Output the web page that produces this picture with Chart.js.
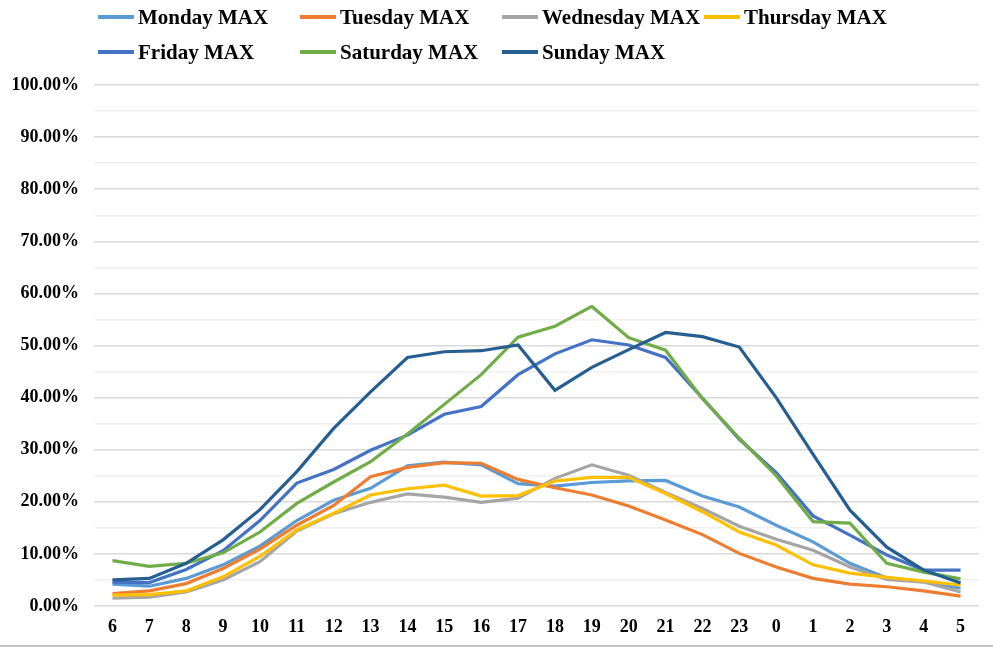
<!DOCTYPE html>
<html lang="en">

<head>
  <meta charset="UTF-8">
  <title>Daily MAX by hour</title>
  <script src="https://cdn.jsdelivr.net/npm/chart.js"></script>
  <style>
    body {
      margin: 0;
      padding: 0;
      background: #fff;
    }

    .wrap {
      position: relative;
      width: 993px;
      height: 649px;
      overflow: hidden;
    }

    .legend-item {
      position: absolute;
      display: flex;
      align-items: center;
      font: bold 21px "Liberation Serif", "Times New Roman", serif;
      color: #000;
      white-space: nowrap;
    }

    .legend-item span.swatch {
      display: inline-block;
      width: 36px;
      height: 4px;
      margin-right: 4px;
    }

    .bottom-rule {
      position: absolute;
      left: 0;
      top: 645px;
      width: 993px;
      height: 2px;
      background: #c4c4c4;
    }
  </style>
</head>

<body>
  <div class="wrap" id="wrap">
    <canvas id="chart" width="993" height="649"></canvas>
    <div class="bottom-rule"></div>
  </div>

  <script>
    const hours = ['6', '7', '8', '9', '10', '11', '12', '13', '14', '15', '16', '17',
      '18', '19', '20', '21', '22', '23', '0', '1', '2', '3', '4', '5'];

    // values in percent
    const monday = [4.2, 3.8, 5.3, 7.9, 11.5, 16.4, 20.3, 22.6, 26.9, 27.6, 27.1, 23.5,
      23.0, 23.7, 24.0, 24.1, 21.1, 19.0, 15.5, 12.3, 8.2, 5.4, 4.7, 3.4];
    const tuesday = [2.4, 2.9, 4.3, 7.2, 10.9, 15.5, 19.3, 24.8, 26.6, 27.5, 27.4, 24.3,
      22.7, 21.3, 19.2, 16.5, 13.7, 10.1, 7.5, 5.3, 4.2, 3.7, 2.9, 1.9];
    const wednesday = [1.5, 1.7, 2.7, 5.0, 8.5, 14.4, 17.7, 19.9, 21.5, 20.9, 19.9, 20.7,
      24.5, 27.1, 25.1, 21.8, 18.7, 15.3, 12.8, 10.7, 7.5, 5.1, 4.6, 2.7];
    const thursday = [2.1, 2.2, 2.9, 5.6, 9.5, 14.6, 17.8, 21.3, 22.5, 23.2, 21.1, 21.2,
      24.0, 24.7, 24.7, 21.6, 18.1, 14.2, 11.7, 7.9, 6.3, 5.5, 4.8, 4.0];
    const friday = [4.6, 4.5, 7.0, 10.6, 16.4, 23.6, 26.2, 29.9, 32.8, 36.8, 38.3, 44.4,
      48.4, 51.1, 50.1, 47.7, 39.9, 32.0, 25.6, 17.3, 13.6, 9.8, 6.9, 6.9];
    const saturday = [8.7, 7.6, 8.2, 10.2, 14.2, 19.7, 23.8, 27.7, 33.0, 38.7, 44.4, 51.6,
      53.7, 57.5, 51.5, 49.1, 39.8, 32.2, 25.0, 16.2, 15.9, 8.2, 6.5, 5.2];
    const sunday = [5.0, 5.3, 8.2, 12.7, 18.5, 25.8, 34.1, 41.1, 47.7, 48.8, 49.0, 50.1,
      41.4, 45.8, 49.2, 52.5, 51.7, 49.7, 40.0, 29.1, 18.4, 11.3, 6.9, 4.4];

    const seriesNames = ['Monday MAX', 'Tuesday MAX', 'Wednesday MAX', 'Thursday MAX',
      'Friday MAX', 'Saturday MAX', 'Sunday MAX'];
    const seriesValues = [monday, tuesday, wednesday, thursday, friday, saturday, sunday];
    const seriesColors = ['#5B9BD5', '#ED7D31', '#A5A5A5', '#FFC000', '#4472C4', '#70AD47', '#255E91'];

    const tickFont = { family: '"Liberation Serif", "Times New Roman", serif', size: 18, weight: 'bold' };

    // legend: 4 columns, 2 rows, like the Excel one
    const wrap = document.getElementById('wrap');
    seriesNames.forEach((name, i) => {
      const col = i % 4;
      const row = Math.floor(i / 4);
      const item = document.createElement('div');
      item.className = 'legend-item';
      item.style.left = (98 + col * 202) + 'px';
      item.style.top = (4 + row * 35) + 'px';
      item.style.height = '26px';
      item.innerHTML = `<span class="swatch" style="background:${seriesColors[i]}"></span>${name}`;
      wrap.appendChild(item);
    });

    const ctx = document.getElementById('chart').getContext('2d');
    new Chart(ctx, {
      type: 'line',
      data: {
        labels: hours,
        datasets: seriesValues.map((vals, i) => ({
          label: seriesNames[i],
          data: vals,
          borderColor: seriesColors[i],
          backgroundColor: seriesColors[i],
          borderWidth: 3.2,
          pointRadius: 0,
          pointHoverRadius: 0,
          tension: 0,
          order: seriesValues.length - 1 - i // later series on top
        }))
      },
      options: {
        responsive: false,
        animation: false,
        layout: {
          padding: { top: 85, right: 14, bottom: 0, left: 0 }
        },
        scales: {
          x: {
            offset: true,
            afterFit: (scale) => { scale.height = 43; },
            grid: { display: false, drawTicks: false },
            border: { display: false },
            ticks: {
              color: '#000',
              font: tickFont,
              padding: 11,
              maxRotation: 0,
              autoSkip: false
            }
          },
          y: {
            min: 0,
            max: 100,
            afterFit: (scale) => { scale.width = 94; },
            grid: {
              drawTicks: false,
              lineWidth: 1.5,
              color: (c) => (c.tick && c.tick.value % 10 === 0) ? '#d9d9d9' : '#f0f0f0'
            },
            border: { display: false },
            ticks: {
              stepSize: 5,
              color: '#000',
              font: tickFont,
              padding: 15,
              callback: (v) => v % 10 === 0 ? v.toFixed(2) + '%' : ''
            }
          }
        },
        plugins: {
          legend: { display: false },
          tooltip: { enabled: false }
        }
      }
    });
  </script>
</body>

</html>
